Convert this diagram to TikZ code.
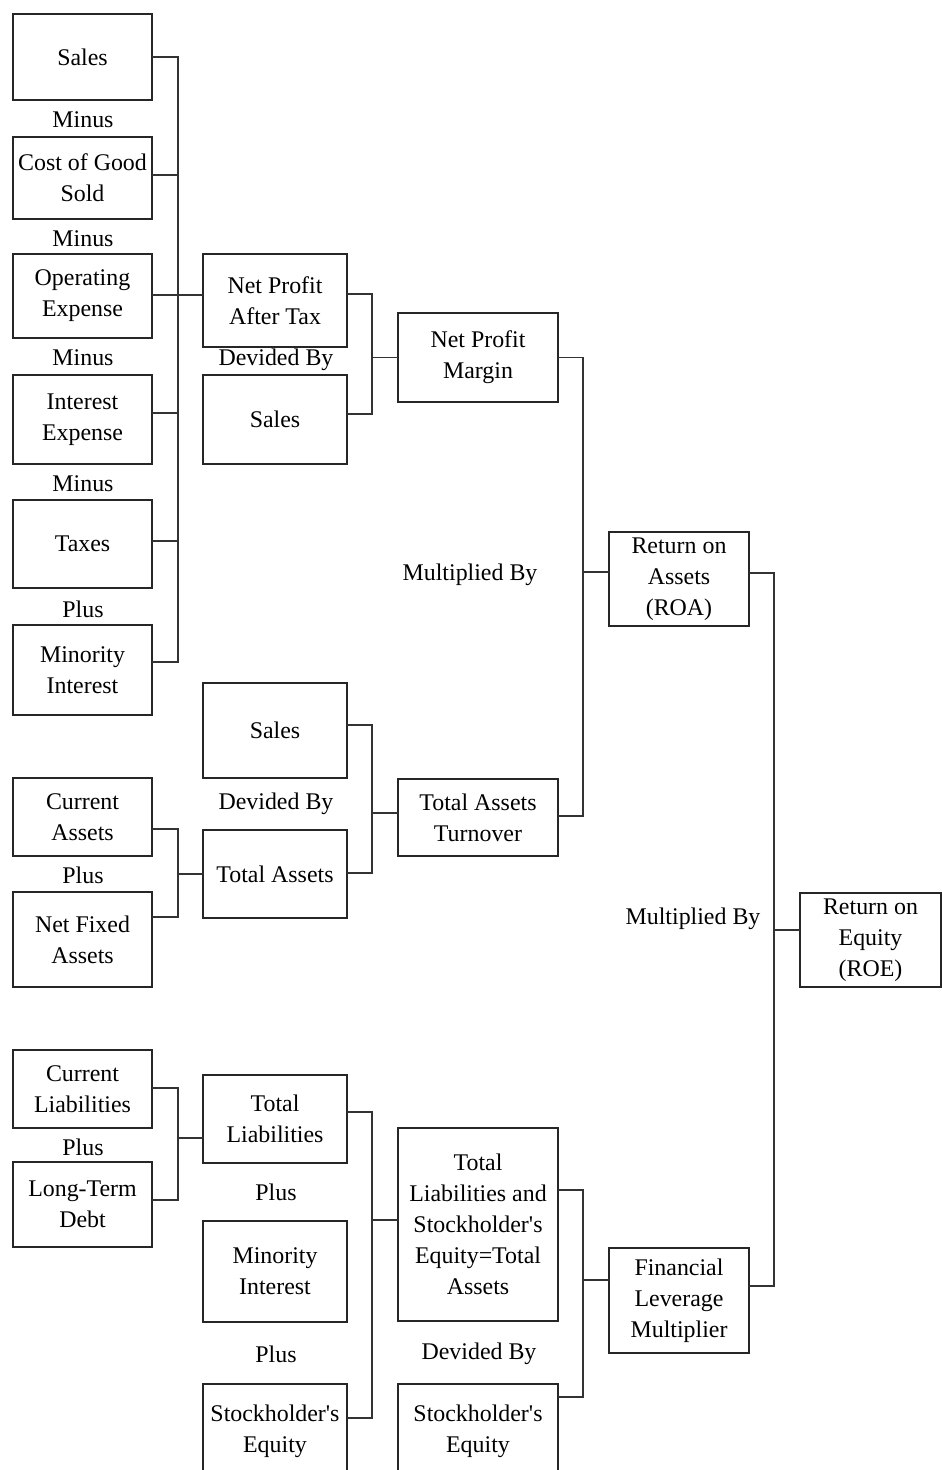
\documentclass[tikz,border=0pt]{standalone}
\usepackage{fontspec}
\setmainfont{Liberation Serif}
\newcommand{\mybox}[6]{\node[box,minimum width={(#3-#2)*0.02cm},minimum height={(#5-#4)*0.02cm}] (#1) at ({(#2+#3)/2},{(#4+#5)/2}) {#6};}
\tikzset{
  box/.style={draw=black!85,line width=0.9pt,inner sep=0pt,outer sep=0pt,align=center,font=\fontsize{13.6}{17.6}\selectfont},
  lbl/.style={inner sep=0pt,align=center,font=\fontsize{13.6}{17.6}\selectfont},
  conn/.style={draw=black!80,line width=0.65pt}
}
\begin{document}
\begin{tikzpicture}[x=0.02cm,y=-0.02cm]
\useasboundingbox (0,0) rectangle (942,1470);
\clip (0,0) rectangle (942,1470);
\fill[white] (0,0) rectangle (942,1470);
% column 1
\mybox{a1}{13}{152}{14}{100}{Sales}
\mybox{a2}{13}{152}{137}{219}{Cost of Good\\Sold}
\mybox{a3}{13}{152}{254}{338}{Operating\\Expense}
\mybox{a4}{13}{152}{375}{464}{Interest\\Expense}
\mybox{a5}{13}{152}{500}{588}{Taxes}
\mybox{a6}{13}{152}{625}{715}{Minority\\Interest}
\mybox{a7}{13}{152}{778}{856}{Current\\Assets}
\mybox{a8}{13}{152}{892}{987}{Net Fixed\\Assets}
\mybox{a9}{13}{152}{1050}{1128}{Current\\Liabilities}
\mybox{a10}{13}{152}{1162}{1247}{Long-Term\\Debt}
% column 2
\mybox{b1}{203}{347}{254}{347}{Net Profit\\After Tax}
\mybox{b2}{203}{347}{375}{464}{Sales}
\mybox{b3}{203}{347}{683}{778}{Sales}
\mybox{b4}{203}{347}{830}{918}{Total Assets}
\mybox{b5}{203}{347}{1075}{1163}{Total\\Liabilities}
\mybox{b6}{203}{347}{1221}{1322}{Minority\\Interest}
\mybox{b7}{203}{347}{1384}{1478}{Stockholder\textquotesingle s\\Equity}
% column 3
\mybox{c1}{398}{558}{313}{402}{Net Profit\\Margin}
\mybox{c2}{398}{558}{779}{856}{Total Assets\\Turnover}
\mybox{c3}{398}{558}{1128}{1321}{Total\\Liabilities and\\Stockholder\textquotesingle s\\Equity=Total\\Assets}
\mybox{c4}{398}{558}{1384}{1478}{Stockholder\textquotesingle s\\Equity}
% column 4
\mybox{d1}{609}{749}{532}{626}{Return on\\Assets\\(ROA)}
\mybox{d2}{609}{749}{1248}{1353}{Financial\\Leverage\\Multiplier}
% column 5
\mybox{e1}{800}{941}{893}{987}{Return on\\Equity\\(ROE)}
% labels
\node[lbl] (m1) at (83,120) {Minus};
\node[lbl] (m2) at (83,239) {Minus};
\node[lbl] (m3) at (83,358) {Minus};
\node[lbl] (m4) at (83,484) {Minus};
\node[lbl] (p1) at (83,609) {Plus};
\node[lbl] (p2) at (83,875) {Plus};
\node[lbl] (p3) at (83,1147) {Plus};
\node[lbl] (dv1) at (276,360) {Devided By};
\node[lbl] (dv2) at (276,804) {Devided By};
\node[lbl] (p4) at (276,1192) {Plus};
\node[lbl] (p5) at (276,1354) {Plus};
\node[lbl] (mb1) at (470,575) {Multiplied By};
\node[lbl] (dv3) at (479,1354) {Devided By};
\node[lbl] (mb2) at (693,919) {Multiplied By};
% bracket junctions
\coordinate (k1) at (178,0);
\coordinate (k2) at (372,0);
\coordinate (k3) at (583,0);
\coordinate (k4) at (774,0);
% income bracket
\draw[conn] (a1.east |- 0,57) -| (k1 |- 0,662) -- (a6.east |- 0,662);
\draw[conn] (a2.east |- 0,175) -- (k1 |- 0,175);
\draw[conn] (a4.east |- 0,413) -- (k1 |- 0,413);
\draw[conn] (a5.east |- 0,541) -- (k1 |- 0,541);
\draw[conn] (a3.east |- 0,295) -- (b1.west |- 0,295);
% net profit margin
\draw[conn] (b1.east |- 0,294) -| (k2 |- 0,414) -- (b2.east |- 0,414);
\draw[conn] (k2 |- c1.west) -- (c1.west);
% ROA
\draw[conn] (c1.east) -| (k3 |- 0,816) -- (c2.east |- 0,816);
\draw[conn] (k3 |- 0,572) -- (d1.west |- 0,572);
% ROE
\draw[conn] (d1.east |- 0,573) -| (k4 |- 0,1286) -- (d2.east |- 0,1286);
\draw[conn] (k4 |- 0,930) -- (e1.west |- 0,930);
% total assets
\draw[conn] (a7.east |- 0,829) -| (k1 |- 0,917) -- (a8.east |- 0,917);
\draw[conn] (k1 |- b4.west) -- (b4.west);
% total assets turnover
\draw[conn] (b3.east |- 0,725) -| (k2 |- 0,873) -- (b4.east |- 0,873);
\draw[conn] (k2 |- 0,813) -- (c2.west |- 0,813);
% total liabilities
\draw[conn] (a9.east |- 0,1088) -| (k1 |- 0,1200) -- (a10.east |- 0,1200);
\draw[conn] (k1 |- 0,1138) -- (b5.west |- 0,1138);
% total liabilities and equity
\draw[conn] (b5.east |- 0,1112) -| (k2 |- 0,1418) -- (b7.east |- 0,1418);
\draw[conn] (k2 |- 0,1220) -- (c3.west |- 0,1220);
% financial leverage multiplier
\draw[conn] (c3.east |- 0,1190) -| (k3 |- 0,1397) -- (c4.east |- 0,1397);
\draw[conn] (k3 |- 0,1280) -- (d2.west |- 0,1280);
\end{tikzpicture}
\end{document}
